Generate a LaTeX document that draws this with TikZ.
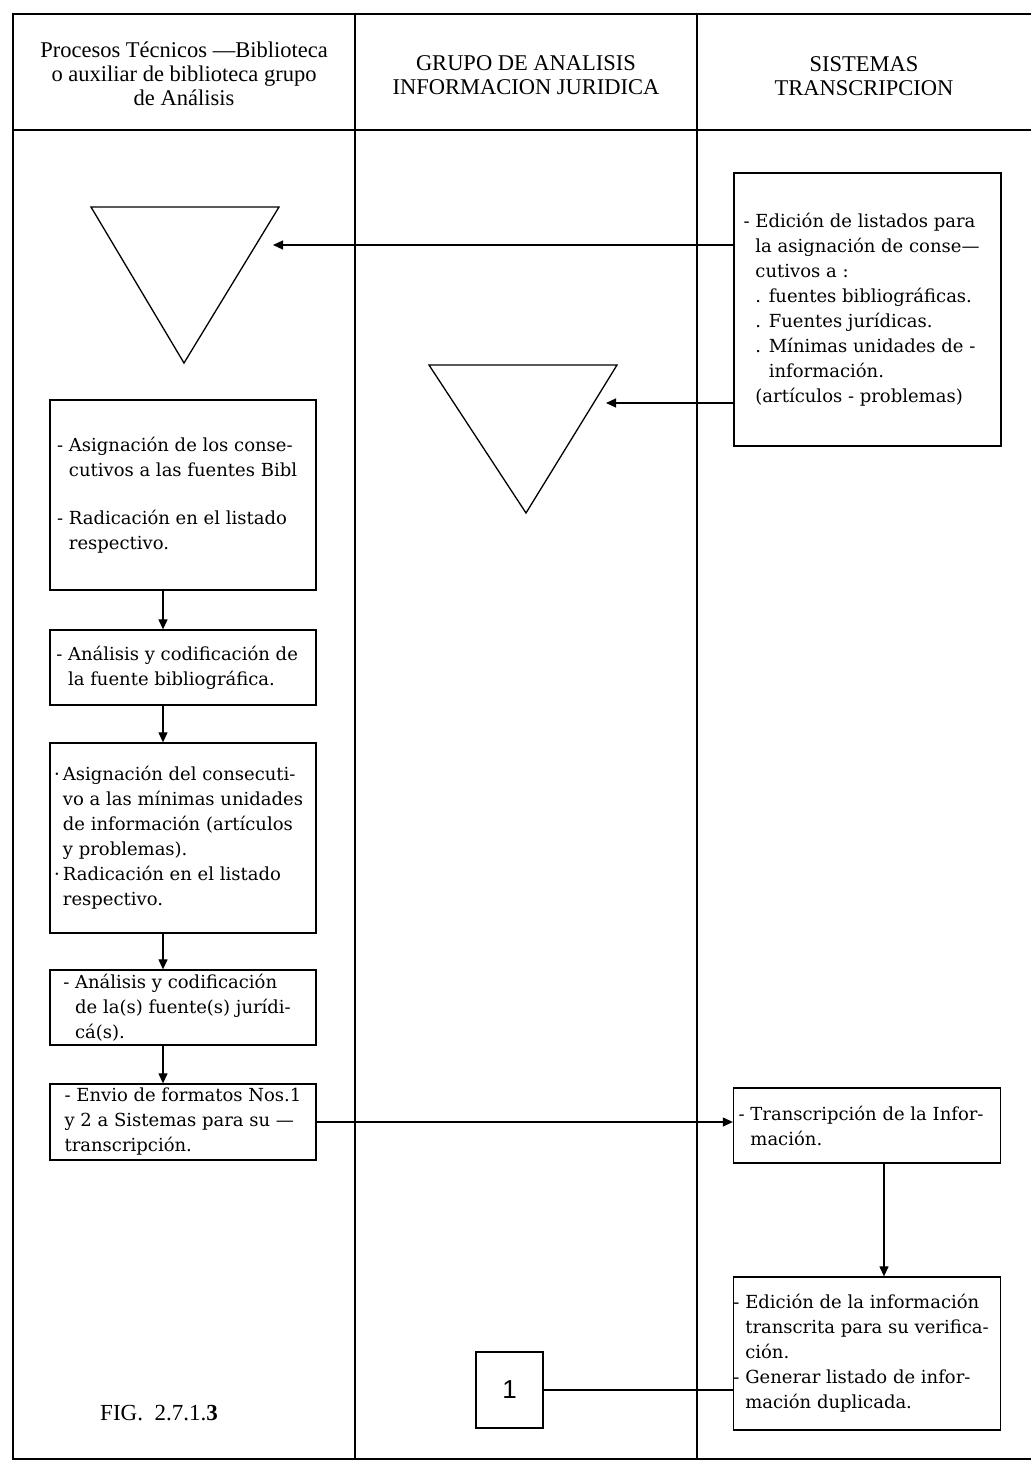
\documentclass[tikz,border=0pt]{standalone}
\usepackage{fontspec}
\setmainfont{DejaVu Serif}
\newfontfamily\headfont{Liberation Serif}
\newfontfamily\digitfont{Liberation Sans}
\usetikzlibrary{arrows.meta}
\newcommand{\hng}[1]{\llap{#1\ }}
\newcommand{\hngdot}{\llap{·\,}}

\begin{document}
\begin{tikzpicture}[
        x=1pt, y=-1pt,
        frame/.style={line width=1.6pt},
        lane/.style={line width=1.2pt},
        box/.style={draw, line width=1.3pt, align=left, inner sep=0pt,
            minimum width=266pt, font=\fontsize{18}{25}\selectfont},
        rbox/.style={box, minimum width=267pt},
        store/.style={draw, line width=1.3pt},
        flow/.style={line width=1.2pt, -{Triangle[length=10pt, width=9pt]}},
        link/.style={line width=1.2pt},
        head/.style={align=center, font=\headfont\fontsize{22.5}{24}\selectfont},
    ]
    \useasboundingbox (0,0) rectangle (1031,1466);

    % frame and lanes
    \draw[frame] (1031,14) -| (13,1459) -- (1031,1459);
    \draw[lane] (13,130) -- (1031,130);
    \draw[lane] (355,14) -- (355,1459);
    \draw[lane] (697,14) -- (697,1459);

    \node[head] (hproc) at (184,74) {Procesos Técnicos —Biblioteca\\o auxiliar de biblioteca grupo\\de Análisis};
    \node[head] (hgrupo) at (526,75) {GRUPO DE ANALISIS\\INFORMACION JURIDICA};
    \node[head] (hsist) at (864,76) {SISTEMAS\\TRANSCRIPCION};

    % archivo
    \draw[store] (91,207) -- (279,207) -- (184,363) -- cycle;
    \coordinate (t1in) at (273,245);
    \draw[store] (429,365) -- (617,365) -- (526,513) -- cycle;
    \coordinate (t2in) at (606,403);

    \node[rbox, minimum height=273pt] (edic) at (867.5,309.5) {%
        \hng{-}Edición de listados para\\
        la asignación de conse—\\
        cutivos a :\\
        . fuentes bibliográficas.\\
        . Fuentes jurídicas.\\
        . Mínimas unidades de -\\
        \hphantom{. }información.\\
        (artículos - problemas)};

    \node[box, minimum height=190pt] (b1) at (183,495) {%
        \hng{-}Asignación de los conse-\\
        cutivos a las fuentes Bibl\\[23pt]
        \hng{-}Radicación en el listado\\
        respectivo.};
    \node[box, minimum height=75pt] (b2) at (183,667.5) {%
        \hng{-}Análisis y codificación de\\
        la fuente bibliográfica.};
    \node[box, minimum height=190pt] (b3) at (183,838) {%
        \hngdot Asignación del consecuti-\\
        vo a las mínimas unidades\\
        de información (artículos\\
        y problemas).\\
        \hngdot Radicación en el listado\\
        respectivo.};
    \node[box, minimum height=75pt] (b4) at (183,1007.5) {%
        \hng{-}Análisis y codificación\\
        de la(s) fuente(s) jurídi-\\
        cá(s).};
    \node[box, minimum height=76pt] (b5) at (183,1122) {%
        - Envio de formatos Nos.1\\
        y 2 a Sistemas para su —\\
        transcripción.};

    \node[rbox, minimum height=75pt] (trans) at (867,1125.5) {%
        \hng{-}Transcripción de la Infor-\\
        mación.};
    \node[rbox, minimum height=153pt] (verif) at (867,1353.5) {%
        \hng{-}Edición de la información\\
        transcrita para su verifica-\\
        ción.\\
        \hng{-}Generar listado de infor-\\
        mación duplicada.};

    \node[draw, line width=1.3pt, minimum width=67pt, minimum height=76pt, inner sep=0pt,
        font=\digitfont\fontsize{26}{26}\selectfont] (one) at (509.5,1390) {1};
    \node[font=\headfont\fontsize{23}{23}\selectfont] (fig) at (159,1413) {FIG.\ \ 2.7.1.\textbf{3}};

    % connectors
    \coordinate (lspine) at (163,0);
    \coordinate (rspine) at (884,0);
    \draw[flow] (edic.west |- t1in) -- (t1in);
    \draw[flow] (edic.west |- t2in) -- (t2in);
    \draw[flow] (b1.south -| lspine) -- (b2.north -| lspine);
    \draw[flow] (b2.south -| lspine) -- (b3.north -| lspine);
    \draw[flow] (b3.south -| lspine) -- (b4.north -| lspine);
    \draw[flow] (b4.south -| lspine) -- (b5.north -| lspine);
    \draw[flow] (b5.east) -- (b5.east -| trans.west);
    \draw[flow] (trans.south -| rspine) -- (verif.north -| rspine);
    \draw[link] (verif.west |- one.east) -- (one.east);
\end{tikzpicture}
\end{document}
